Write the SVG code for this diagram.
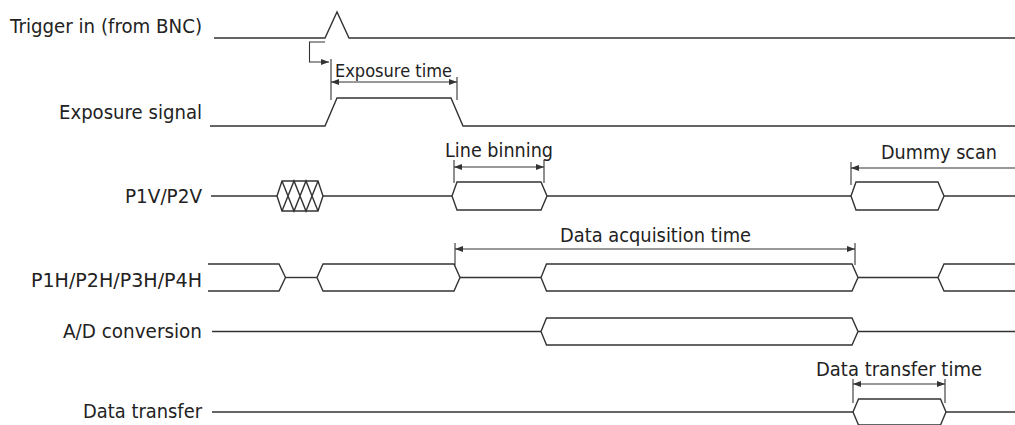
<svg xmlns="http://www.w3.org/2000/svg" width="1015" height="425" viewBox="0 0 1015 425">
<defs>
<style>
.sig{fill:none;stroke:#333;stroke-width:1.4;stroke-linejoin:miter}
.dim{fill:none;stroke:#333;stroke-width:1.1}
.lbl{font-family:"DejaVu Sans","Verdana",sans-serif;font-size:19.5px;fill:#222}
.end{text-anchor:end}
</style>
<marker id="ah" viewBox="0 0 8 6" refX="8" refY="3" markerWidth="8" markerHeight="6" markerUnits="userSpaceOnUse" orient="auto-start-reverse">
<path d="M0,0 L8,3 L0,6 z" fill="#333"/>
</marker>
</defs>
<rect width="1015" height="425" fill="#fff"/>

<g id="trigger">
<text class="lbl end" x="202" y="32.5" textLength="192" lengthAdjust="spacingAndGlyphs">Trigger in (from BNC)</text>
<path class="sig" d="M214,38 H325 L337,12 L349,38 H1015"/>
</g>

<g id="exposure">
<text class="lbl end" x="202" y="119" textLength="143" lengthAdjust="spacingAndGlyphs">Exposure signal</text>
<path class="sig" d="M210,126 H325 L337,98 H451 L463,126 H1015"/>
</g>

<g id="p1v">
<text class="lbl end" x="202" y="203" textLength="77" lengthAdjust="spacingAndGlyphs">P1V/P2V</text>
<path class="sig" d="M211,196 H277"/>
<path class="sig" d="M277,196 L282,181 H318 L323,196 L318,211 H282 Z"/>
<path class="sig" d="M282,181 L294,211 L306,181 L318,211 M282,211 L294,181 L306,211 L318,181"/>
<path class="sig" d="M323,196 H452"/>
<path class="sig" d="M452,196 L457,182 H541 L547,196 L541,210 H457 Z"/>
<path class="sig" d="M547,196 H851"/>
<path class="sig" d="M851,196 L856,182 H938 L944,196 L938,210 H856 Z"/>
<path class="sig" d="M944,196 H1015"/>
</g>

<g id="p1h">
<text class="lbl end" x="202" y="286.5" textLength="171" lengthAdjust="spacingAndGlyphs">P1H/P2H/P3H/P4H</text>
<path class="sig" d="M208,264 H279 L285.5,277.5 L279,291 H208"/>
<path class="sig" d="M285.5,277.5 H317"/>
<path class="sig" d="M317,277.5 L323,264 H454 L460,277.5 L454,291 H323 Z"/>
<path class="sig" d="M460,277.5 H541"/>
<path class="sig" d="M541,277.5 L546.5,264 H852 L858,277.5 L852,291 H546.5 Z"/>
<path class="sig" d="M858,277.5 H938"/>
<path class="sig" d="M1015,264 H944 L938,277.5 L944,291 H1015"/>
</g>

<g id="adc">
<text class="lbl end" x="202" y="338" textLength="139" lengthAdjust="spacingAndGlyphs">A/D conversion</text>
<path class="sig" d="M212,331.5 H541"/>
<path class="sig" d="M541,331.5 L546.5,318 H852 L858,331.5 L852,345 H546.5 Z"/>
<path class="sig" d="M858,331.5 H1015"/>
</g>

<g id="transfer">
<text class="lbl end" x="202" y="418" textLength="119" lengthAdjust="spacingAndGlyphs">Data transfer</text>
<path class="sig" d="M212,412 H853"/>
<path class="sig" d="M853,412 L858.5,399 H940.5 L946,412 L940.5,425 H858.5 Z"/>
<path class="sig" d="M946,412 H1015"/>
</g>

<g id="connectors">
<path class="dim" d="M325,42 H309.5 V62 H329" marker-end="url(#ah)"/>
<line class="dim" x1="331" y1="59" x2="331" y2="100"/>
<line class="dim" x1="457" y1="77" x2="457" y2="100"/>
<line class="dim" x1="331" y1="82" x2="457" y2="82" marker-start="url(#ah)" marker-end="url(#ah)"/>
<text class="lbl" x="335" y="77" style="font-size:18.5px" textLength="117" lengthAdjust="spacingAndGlyphs">Exposure time</text>

<line class="dim" x1="454" y1="160" x2="454" y2="183"/>
<line class="dim" x1="544" y1="160" x2="544" y2="183"/>
<line class="dim" x1="454" y1="167" x2="544" y2="167" marker-start="url(#ah)" marker-end="url(#ah)"/>
<text class="lbl" x="445" y="157" textLength="108" lengthAdjust="spacingAndGlyphs">Line binning</text>

<line class="dim" x1="851" y1="162" x2="851" y2="185"/>
<line class="dim" x1="1015" y1="168" x2="851" y2="168" marker-end="url(#ah)"/>
<text class="lbl" x="881" y="159" textLength="116" lengthAdjust="spacingAndGlyphs">Dummy scan</text>

<line class="dim" x1="455" y1="243" x2="455" y2="265"/>
<line class="dim" x1="855" y1="243" x2="855" y2="265"/>
<line class="dim" x1="455" y1="249" x2="855" y2="249" marker-start="url(#ah)" marker-end="url(#ah)"/>
<text class="lbl" x="560" y="242" textLength="191" lengthAdjust="spacingAndGlyphs">Data acquisition time</text>

<line class="dim" x1="853" y1="379" x2="853" y2="403"/>
<line class="dim" x1="945" y1="379" x2="945" y2="403"/>
<line class="dim" x1="853" y1="384" x2="945" y2="384" marker-start="url(#ah)" marker-end="url(#ah)"/>
<text class="lbl" x="816" y="375.5" textLength="166" lengthAdjust="spacingAndGlyphs">Data transfer time</text>
</g>
</svg>
